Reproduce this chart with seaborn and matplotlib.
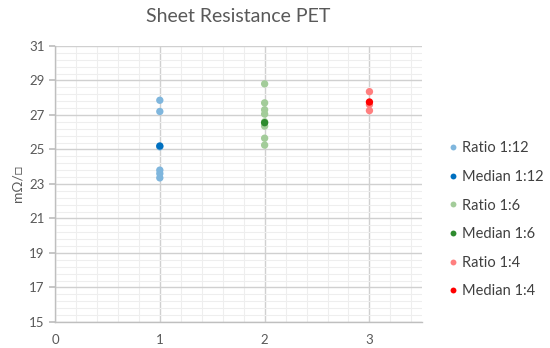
import numpy as np
import pandas as pd
import matplotlib
matplotlib.use("Agg")
import matplotlib.pyplot as plt
import seaborn as sns

sns.set_theme(style="white")
plt.rcParams["font.family"] = ["Lato", "DejaVu Sans"]

# ── data ──
ratio_12 = [27.85, 27.2, 25.15, 23.8, 23.6, 23.35]
median_12 = [25.2]
ratio_6 = [28.8, 27.7, 27.3, 27.05, 26.6, 26.35, 25.65, 25.25]
median_6 = [26.55]
ratio_4 = [28.35, 27.6, 27.25]
median_4 = [27.75]

x_ticks = [0, 1, 2, 3]
y_ticks = [15, 17, 19, 21, 23, 25, 27, 29, 31]

series = {
    "Ratio 1:12": (1, ratio_12),
    "Median 1:12": (1, median_12),
    "Ratio 1:6": (2, ratio_6),
    "Median 1:6": (2, median_6),
    "Ratio 1:4": (3, ratio_4),
    "Median 1:4": (3, median_4),
}
palette = {
    "Ratio 1:12": "#7fb6dd",
    "Median 1:12": "#0070c0",
    "Ratio 1:6": "#a3cc9a",
    "Median 1:6": "#2e8b2e",
    "Ratio 1:4": "#ff7f7f",
    "Median 1:4": "#ff0000",
}

rows = []
for name, (xv, vals) in series.items():
    for v in vals:
        rows.append({"x": xv, "y": v, "series": name})
df = pd.DataFrame(rows)

fig = plt.figure(figsize=(5.5, 3.48), dpi=100)
ax = fig.add_axes([0.1, 0.075, 0.667, 0.793])

sns.scatterplot(data=df, x="x", y="y", hue="series", palette=palette,
                hue_order=list(series.keys()), s=28, edgecolor="none",
                ax=ax, zorder=3, legend=True)

ax.set_xlim(0, 3.5)
ax.set_ylim(15, 31)
ax.set_xticks(x_ticks)
ax.set_xticks(np.arange(0, 3.51, 0.2), minor=True)
ax.set_yticks(y_ticks)
ax.set_yticks(np.arange(15, 31.01, 0.4), minor=True)
ax.grid(which="major", color="#d0d0d0", linewidth=1.0)
ax.grid(which="minor", color="#eeeeee", linewidth=0.8)
ax.set_axisbelow(True)

for s in ["top", "right"]:
    ax.spines[s].set_visible(False)
for s in ["left", "bottom"]:
    ax.spines[s].set_color("#bfbfbf")
    ax.spines[s].set_linewidth(1.0)

ax.tick_params(axis="both", which="major", labelsize=9.5, labelcolor="#595959",
               color="#bfbfbf", length=4)
ax.tick_params(axis="y", which="major", left=True, direction="out")
ax.tick_params(axis="x", which="major", bottom=False, pad=5)
ax.tick_params(which="minor", length=0)

ax.set_xlabel("")
ax.set_ylabel("mΩ/□", fontsize=10, color="#595959")
ax.set_title("Sheet Resistance PET", fontsize=14, color="#595959", pad=17)

handles, labels = ax.get_legend_handles_labels()
ax.legend(handles, labels, loc="center left", bbox_to_anchor=(1.05, 0.37),
          borderaxespad=0, frameon=False, fontsize=10.5, labelspacing=1.0,
          handletextpad=0.1, handlelength=1.0, markerscale=0.8,
          labelcolor="#404040")

fig.savefig("out.png", dpi=100)
